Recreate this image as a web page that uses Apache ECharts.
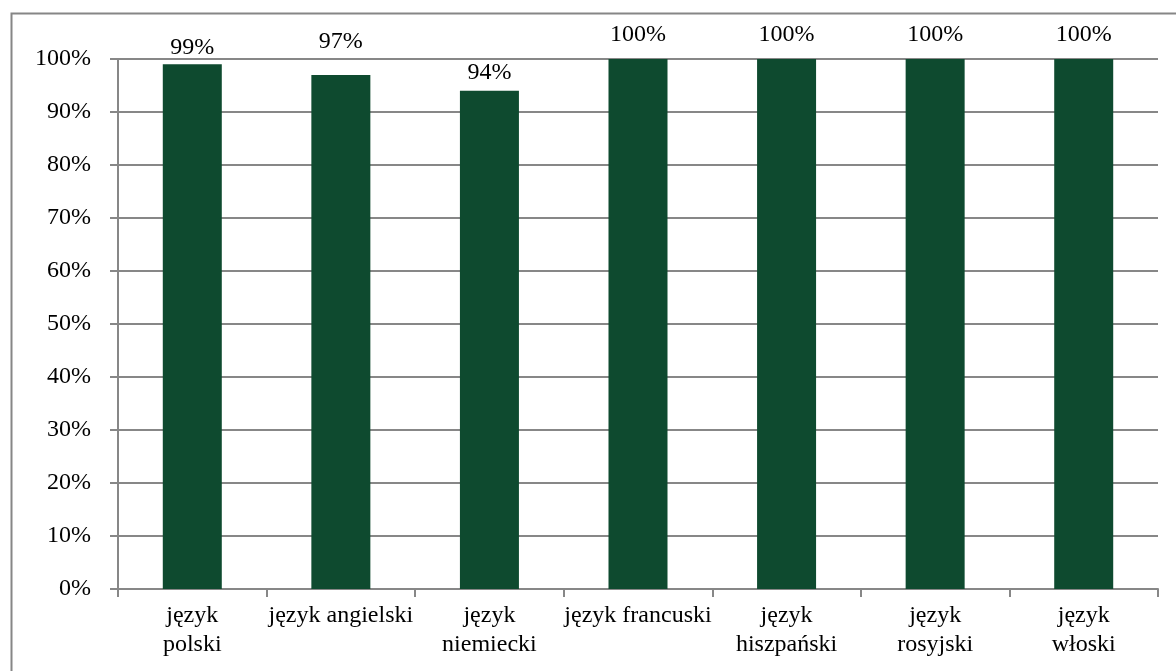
<!DOCTYPE html>
<html>
<head>
<meta charset="utf-8">
<script src="https://cdn.jsdelivr.net/npm/echarts@6/dist/echarts.min.js"></script>
<style>
html,body{margin:0;padding:0;background:#fff;}
#chart{width:1176px;height:671px;}
</style>
</head>
<body>
<div id="chart"></div>
<script>
const categories = ["język polski","język angielski","język niemiecki","język francuski","język hiszpański","język rosyjski","język włoski"];
const tickLabels = ["język\npolski","język angielski","język\nniemiecki","język francuski","język\nhiszpański","język\nrosyjski","język\nwłoski"];
const values = [99, 97, 94, 100, 100, 100, 100];
const yTicks = [0,10,20,30,40,50,60,70,80,90,100];

const labelLift = [0, 16, 1, 7, 7, 7, 7];

const font = "'Liberation Serif','Times New Roman',serif";
const chart = echarts.init(document.getElementById('chart'));
chart.setOption({
  animation: false,
  backgroundColor: '#fff',
  graphic: [{
    type: 'rect', left: 9, top: 11,
    shape: {x: 0, y: 0, width: 1200, height: 700},
    style: {fill: 'none', stroke: '#868686', lineWidth: 2},
    silent: true, z: 0
  }],
  grid: {left: 118, right: 18, top: 59, bottom: 82, containLabel: false},
  xAxis: {
    type: 'category',
    data: categories,
    axisLine: {lineStyle: {color: '#878787', width: 2}},
    axisTick: {show: true, length: 8, alignWithLabel: false, lineStyle: {color: '#878787', width: 2}},
    axisLabel: {
      interval: 0, margin: 12, color: '#000', fontFamily: font, fontSize: 24, lineHeight: 29,
      formatter: (v, i) => tickLabels[i]
    },
    splitLine: {show: false}
  },
  yAxis: {
    type: 'value', min: 0, max: 100, interval: 10,
    axisLine: {show: true, lineStyle: {color: '#878787', width: 2}},
    axisTick: {show: true, length: 8, inside: false, lineStyle: {color: '#878787', width: 2}},
    axisLabel: {margin: 27, color: '#000', fontFamily: font, fontSize: 24, formatter: v => yTicks.includes(v) ? v + '%' : ''},
    splitLine: {show: true, lineStyle: {color: '#878787', width: 2}}
  },
  series: [{
    type: 'bar',
    data: values.map((v, i) => ({value: v, label: {offset: [0, -labelLift[i]]}})),
    barWidth: 59,
    itemStyle: {color: '#0e4a2f'},
    label: {
      show: true, position: 'top', distance: 5,
      color: '#000', fontFamily: font, fontSize: 24,
      formatter: p => p.value + '%'
    }
  }]
});
</script>
</body>
</html>
